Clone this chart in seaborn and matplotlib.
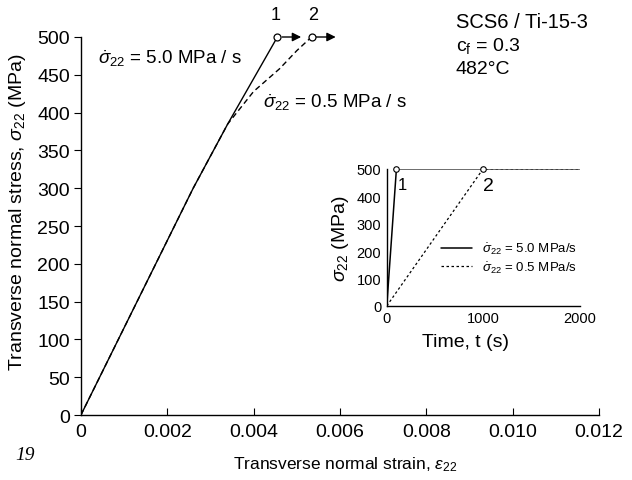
import matplotlib
matplotlib.use('Agg')
import matplotlib.pyplot as plt
import seaborn as sns
import pandas as pd

# ---- data ----
strain_fast = [0, 0.0013, 0.0026, 0.0034, 0.0040, 0.00455]
stress_fast = [0, 150, 300, 385, 445, 500]
strain_slow = [0, 0.0013, 0.0026, 0.0034, 0.0040, 0.0046, 0.0050, 0.00534]
stress_slow = [0, 150, 300, 385, 428, 458, 482, 500]

time_fast = [0, 100, 2000]
stress_t_fast = [0, 500, 500]
time_slow = [0, 1000, 2000]
stress_t_slow = [0, 500, 500]

x_ticks = [0, 0.002, 0.004, 0.006, 0.008, 0.010, 0.012]
x_ticklabels = ['0', '0.002', '0.004', '0.006', '0.008', '0.010', '0.012']
y_ticks = list(range(0, 501, 50))
inset_xticks = [0, 1000, 2000]
inset_yticks = [0, 100, 200, 300, 400, 500]

sns.set_theme(style='ticks')
plt.rcParams['font.family'] = ['Liberation Sans', 'DejaVu Sans']
plt.rcParams['mathtext.fontset'] = 'custom'
plt.rcParams['mathtext.rm'] = 'Liberation Sans'
plt.rcParams['mathtext.it'] = 'Liberation Sans:italic'
plt.rcParams['mathtext.bf'] = 'Liberation Sans:bold'
plt.rcParams['text.color'] = 'black'
plt.rcParams['axes.labelcolor'] = 'black'

fig = plt.figure(figsize=(6.32, 4.81), dpi=100)
fig.patch.set_facecolor('white')

ax = fig.add_axes([0.128, 0.135, 0.82, 0.786])
df_fast = pd.DataFrame({'strain': strain_fast, 'stress': stress_fast})
df_slow = pd.DataFrame({'strain': strain_slow, 'stress': stress_slow})
sns.lineplot(data=df_fast, x='strain', y='stress', ax=ax, color='black', lw=1.0,
             sort=False, estimator=None)
sns.lineplot(data=df_slow, x='strain', y='stress', ax=ax, color='black', lw=1.0,
             sort=False, estimator=None, linestyle=(0, (4, 2.5)))
# end markers
ax.plot([strain_fast[-1]], [stress_fast[-1]], 'o', mfc='white', mec='black', ms=5, mew=0.9,
        clip_on=False, zorder=5)
ax.plot([strain_slow[-1]], [stress_slow[-1]], 'o', mfc='white', mec='black', ms=5, mew=0.9,
        clip_on=False, zorder=5)
ax.annotate('', xy=(0.0051, 500), xytext=(0.00466, 500),
            arrowprops=dict(arrowstyle='-|>', color='black', lw=1.0, mutation_scale=13,
                            shrinkA=0, shrinkB=0), annotation_clip=False)
ax.annotate('', xy=(0.0059, 500), xytext=(0.00545, 500),
            arrowprops=dict(arrowstyle='-|>', color='black', lw=1.0, mutation_scale=13,
                            shrinkA=0, shrinkB=0), annotation_clip=False)
ax.text(0.00452, 518, '1', fontsize=13, ha='center', va='bottom', clip_on=False)
ax.text(0.00538, 518, '2', fontsize=13, ha='center', va='bottom', clip_on=False)

ax.text(0.0004, 473, r'$\dot{\sigma}_{22}$ = 5.0 MPa / s', fontsize=13.5, va='center')
ax.text(0.00422, 415, r'$\dot{\sigma}_{22}$ = 0.5 MPa / s', fontsize=13.5, va='center')
ax.text(0.00868, 521, 'SCS6 / Ti-15-3', fontsize=14.5, va='center')
ax.text(0.00868, 490, r'c$_\mathregular{f}$ = 0.3', fontsize=14, va='center')
ax.text(0.00868, 459, '482°C', fontsize=14, va='center')

ax.set_xlim(0, 0.012)
ax.set_ylim(0, 500)
ax.set_xticks(x_ticks)
ax.set_xticklabels(x_ticklabels)
ax.set_yticks(y_ticks)
ax.tick_params(axis='x', direction='in', length=5, width=0.8, labelsize=14, pad=6, colors='black')
ax.tick_params(axis='y', direction='out', length=5, width=0.8, labelsize=14, pad=3, colors='black')
for s in ['top', 'right']:
    ax.spines[s].set_visible(False)
for s in ['left', 'bottom']:
    ax.spines[s].set_color('black')
    ax.spines[s].set_linewidth(1.0)
ax.set_xlabel(r'Transverse normal strain, $\epsilon_{22}$', fontsize=12.5)
ax.set_ylabel(r'Transverse normal stress, $\sigma_{22}$ (MPa)', fontsize=14)
ax.xaxis.set_label_coords(0.51, -0.105)
ax.yaxis.set_label_coords(-0.102, 0.54)
ax.set_facecolor('white')

# ---- inset ----
axi = fig.add_axes([0.612, 0.362, 0.305, 0.285])
df_tf = pd.DataFrame({'t': time_fast, 's': stress_t_fast})
df_ts = pd.DataFrame({'t': time_slow, 's': stress_t_slow})
sns.lineplot(data=df_ts, x='t', y='s', ax=axi, color='black', lw=0.9, sort=False,
             estimator=None, linestyle=(0, (2, 2)), label=r'$\dot{\sigma}_{22}$ = 0.5 MPa/s')
sns.lineplot(data=df_tf, x='t', y='s', ax=axi, color='black', lw=1.1, sort=False,
             estimator=None, label=r'$\dot{\sigma}_{22}$ = 5.0 MPa/s')
axi.plot([time_fast[1]], [stress_t_fast[1]], 'o', mfc='white', mec='black', ms=4, mew=0.8,
         clip_on=False, zorder=5)
axi.plot([time_slow[1]], [stress_t_slow[1]], 'o', mfc='white', mec='black', ms=4, mew=0.8,
         clip_on=False, zorder=5)
axi.text(110, 470, '1', fontsize=12, va='top')
axi.text(1000, 470, '2', fontsize=14, va='top')
h, l = axi.get_legend_handles_labels()
axi.legend(h[::-1], l[::-1], loc='center left', bbox_to_anchor=(0.28, 0.35), frameon=False,
           fontsize=9.5, handlelength=2.4, handletextpad=0.7, labelspacing=0.25,
           borderpad=0, borderaxespad=0, labelcolor='black')
axi.set_xlim(0, 2000)
axi.set_ylim(0, 500)
axi.set_xticks(inset_xticks)
axi.set_yticks(inset_yticks)
axi.tick_params(axis='both', direction='out', length=0, labelsize=10.5, pad=4, colors='black')
for s in ['top', 'right']:
    axi.spines[s].set_visible(False)
for s in ['left', 'bottom']:
    axi.spines[s].set_color('black')
    axi.spines[s].set_linewidth(1.0)
axi.set_xlabel('Time, t (s)', fontsize=14)
axi.set_ylabel(r'$\sigma_{22}$ (MPa)', fontsize=14, labelpad=4)
axi.xaxis.set_label_coords(0.41, -0.2)
axi.set_facecolor('none')

fig.text(0.024, 0.054, '19', fontsize=14, family='Liberation Serif', style='italic',
         ha='left', va='center')

fig.savefig('out.png', dpi=100, facecolor='white')
